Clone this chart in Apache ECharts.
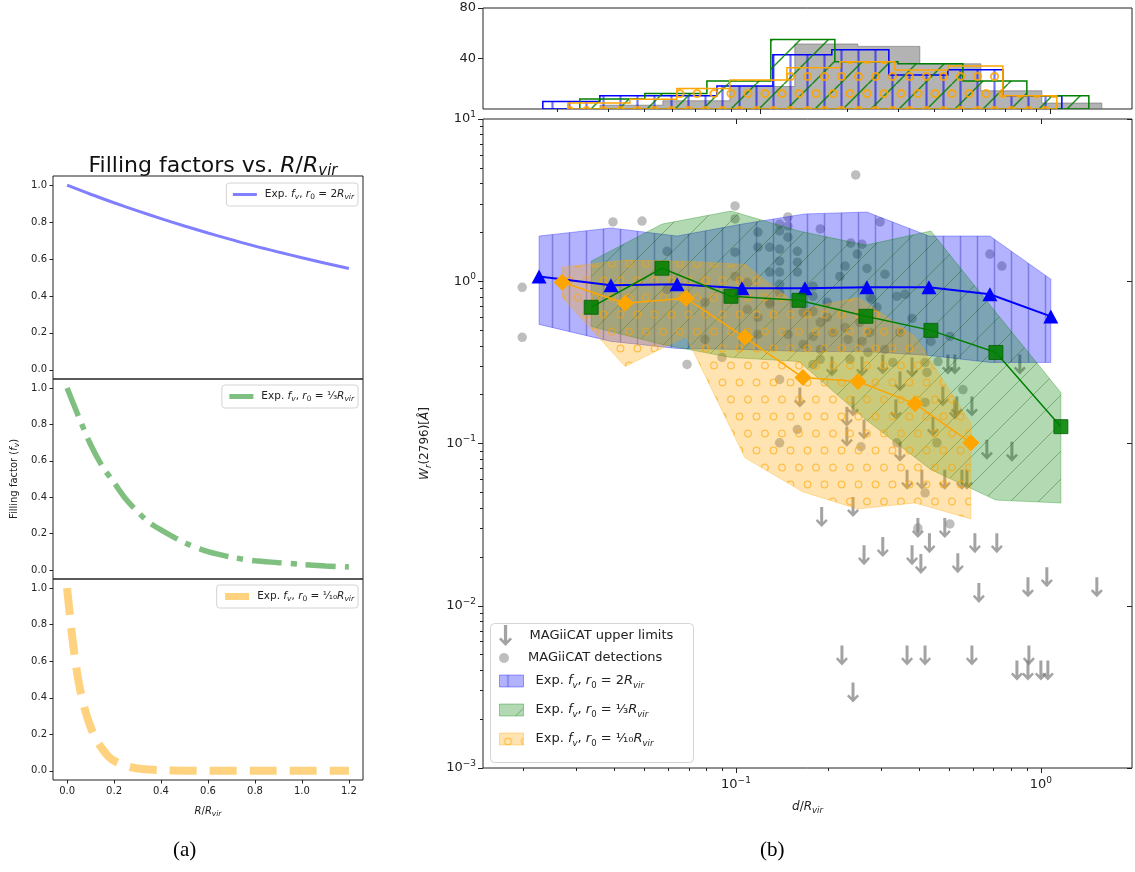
<!DOCTYPE html>
<html><head><meta charset="utf-8">
<script src="https://cdn.jsdelivr.net/npm/echarts@6/dist/echarts.min.js"></script>
<style>html,body{margin:0;padding:0;background:#fff}#c{width:1135px;height:872px}</style>
</head><body><div id="c"></div>
<script>
// ---------- Panel (a): filling factor curves ----------
const R_A = [0,0.1,0.2,0.3,0.4,0.5,0.6,0.7,0.8,0.9,1.0,1.1,1.2];
const F_A = [1.0,0.951,0.905,0.861,0.819,0.779,0.741,0.705,0.670,0.638,0.607,0.577,0.549];
const R_B = [0,0.05,0.1,0.15,0.2,0.25,0.3,0.35,0.4,0.5,0.6,0.7,0.8,0.9,1.0,1.1,1.2];
const F_B = [1.0,0.84,0.69,0.57,0.48,0.39,0.32,0.26,0.22,0.15,0.10,0.07,0.05,0.04,0.03,0.022,0.016];
const R_C = [0,0.025,0.05,0.075,0.1,0.125,0.15,0.175,0.2,0.25,0.3,0.35,0.4,0.5,0.6,0.8,1.0,1.2];
const F_C = [1.0,0.70,0.48,0.34,0.24,0.17,0.12,0.08,0.055,0.027,0.013,0.007,0.004,0.001,0,0,0,0];
const TICKS_A_X = [0,0.2,0.4,0.6,0.8,1.0,1.2];
const TICKS_A_Y = [0,0.2,0.4,0.6,0.8,1.0];

// ---------- Panel (b): histogram (counts per bin, bin edges in d/Rvir) ----------
const HGREY_E = [0.0281,0.0463,0.0788,0.132,0.2177,0.3561,0.5783,0.9385,1.511];
const HGREY_C = [3,6.5,17.8,51.5,49.6,35.8,14.4,4.7];
const HBLUE_E = [0.01785,0.02807,0.0452,0.0711,0.1109,0.1771,0.2785,0.4449,0.6884,1.100];
const HBLUE_C = [6,10.5,10.5,18.3,43,47,27,31,10.5];
const HGREEN_E = [0.02394,0.04012,0.06568,0.1091,0.1814,0.2992,0.5012,0.8331,1.363];
const HGREEN_C = [8,12.3,22.2,55,37.4,35.8,22.2,10.5];
const HORANGE_E = [0.02177,0.03561,0.05173,0.07879,0.1239,0.1888,0.2921,0.4449,0.6884,1.057];
const HORANGE_C = [4.7,7.8,16.2,22.9,32.7,37.4,30.8,34,10.5];
const HIST_TICKS_Y = [40,80];

// ---------- Panel (b): model medians and bands ----------
const BLUE_X = [0.0226,0.0389,0.0641,0.1046,0.1684,0.2688,0.4294,0.6805,1.078];
const BLUE_MED = [1.07,0.944,0.958,0.905,0.905,0.918,0.918,0.831,0.607];
const BLUE_UP = [1.90,2.13,1.90,2.25,2.60,2.67,1.90,1.90,1.03];
const BLUE_LO = [0.542,0.426,0.385,0.380,0.369,0.369,0.349,0.316,0.316];

const GREEN_X = [0.0335,0.0572,0.0963,0.1609,0.2668,0.4358,0.712,1.163];
const GREEN_MED = [0.691,1.203,0.808,0.763,0.608,0.498,0.364,0.127];
const GREEN_UP = [1.33,2.25,2.71,2.04,1.67,2.04,0.643,0.206];
const GREEN_LO = [0.527,0.408,0.339,0.320,0.14,0.069,0.0448,0.043];

const ORANGE_X = [0.0269,0.0433,0.0686,0.107,0.1658,0.2512,0.3863,0.5895];
const ORANGE_MED = [0.986,0.731,0.785,0.451,0.255,0.241,0.176,0.101];
const ORANGE_UP = [1.22,1.35,1.33,1.27,0.671,0.796,0.457,0.134];
const ORANGE_LO = [0.796,0.298,0.457,0.0816,0.0503,0.0395,0.043,0.0343];

// ---------- Panel (b): MAGiiCAT detections ----------
const DET_X = [0.0199,0.0199,0.0395,0.0492,0.0993,0.0993,0.0594,0.0993,0.0691,0.0594,0.0791,0.0993,0.109,0.109,0.118,0.118,0.0791,0.0900,0.118,0.118,0.129,0.129,0.139,0.148,0.148,0.148,0.139,0.139,0.139,0.139,0.139,0.139,0.159,0.159,0.159,0.166,0.129,0.148,0.139,0.159,0.139,0.247,0.189,0.297,0.238,0.259,0.250,0.228,0.269,0.308,0.219,0.179,0.179,0.275,0.337,0.358,0.199,0.290,0.199,0.378,0.129,0.189,0.208,0.228,0.255,0.275,0.233,0.259,0.179,0.166,0.345,0.503,0.436,0.271,0.308,0.189,0.189,0.327,0.417,0.460,0.179,0.423,0.2365,0.680,0.745,0.555,0.417,0.257,0.337,0.456,0.417,0.395,0.503,0.179,0.279];
const DET_Y = [0.918,0.451,2.32,2.35,2.91,2.42,1.53,1.51,0.307,0.892,0.742,1.07,0.986,0.671,0.599,0.470,0.438,0.339,2.01,1.62,1.62,0.742,2.25,2.49,2.19,1.87,2.04,1.58,1.33,1.14,0.958,0.855,1.53,1.31,1.14,0.643,1.14,0.470,0.248,0.122,0.101,4.52,2.10,2.32,1.72,1.69,1.47,1.24,1.20,1.105,1.07,0.931,0.808,0.796,0.808,0.831,0.742,0.691,0.599,0.590,0.721,0.558,0.484,0.519,0.558,0.484,0.438,0.426,0.457,0.408,0.484,0.457,0.426,0.364,0.380,0.380,0.330,0.316,0.316,0.320,0.307,0.274,0.330,1.47,1.24,0.215,0.179,0.0955,0.101,0.101,0.0496,0.0301,0.0319,0.652,0.774];

// ---------- Panel (b): MAGiiCAT upper limits ----------
const UL_X = [0.162,0.242,0.231,0.263,0.231,0.345,0.3345,0.364,0.407,0.484,0.551,0.572,0.4425,0.477,0.530,0.594,0.665,0.8035,0.191,0.242,0.395,0.484,0.431,0.303,0.263,0.378,0.404,0.6075,0.717,0.534,0.626,0.907,1.046,1.526,0.2226,0.364,0.417,0.594,0.9135,0.8345,0.907,1.0,1.054,0.242,0.2064,0.259,0.303,0.378,0.4955,0.522,0.853,0.345,0.522];
const UL_Y = [0.192,0.169,0.146,0.122,0.110,0.0889,0.162,0.0597,0.0597,0.0597,0.0597,0.0597,0.127,0.195,0.169,0.169,0.0915,0.0889,0.0352,0.0406,0.0301,0.0301,0.0243,0.0230,0.0205,0.0205,0.0181,0.0243,0.0243,0.0183,0.0120,0.0130,0.0150,0.0130,0.00494,0.00494,0.00494,0.00494,0.00494,0.00399,0.00399,0.00399,0.00399,0.00292,0.298,0.298,0.307,0.294,0.307,0.307,0.307,0.241,0.162];

// axis tick positions
const X_MAJ = [0.1,1];
const X_MINOR = [0.02,0.03,0.04,0.05,0.06,0.07,0.08,0.09,0.2,0.3,0.4,0.5,0.6,0.7,0.8,0.9];
const Y_MAJ = [0.001,0.01,0.1,1,10];
const Y_MINOR = [0.002,0.003,0.004,0.005,0.006,0.007,0.008,0.009,0.02,0.03,0.04,0.05,0.06,0.07,0.08,0.09,0.2,0.3,0.4,0.5,0.6,0.7,0.8,0.9,2,3,4,5,6,7,8,9];

const zip = (a,b) => a.map((v,i)=>[v,b[i]]);

// ---------- hatch patterns ----------
function mkPattern(w,h,bg,draw){
  const c=document.createElement('canvas'); c.width=w; c.height=h;
  const g=c.getContext('2d');
  if(bg){g.fillStyle=bg; g.fillRect(0,0,w,h);}
  draw(g,w,h);
  return {type:'pattern', image:c, repeat:'repeat'};
}
const vlines=(col,lw)=>(g,w,h)=>{g.strokeStyle=col;g.lineWidth=lw;g.beginPath();g.moveTo(w/2,0);g.lineTo(w/2,h);g.stroke();};
const diag=(col,lw)=>(g,w,h)=>{g.strokeStyle=col;g.lineWidth=lw;g.beginPath();
  [-w,0,w].forEach(x0=>{g.moveTo(x0,h);g.lineTo(x0+w,0);}); g.stroke();};
const rings=(col,lw,r)=>(g,w,h)=>{g.strokeStyle=col;g.lineWidth=lw;
  [[w/2,h/4],[0,3*h/4],[w,3*h/4]].forEach(p=>{g.beginPath();g.arc(p[0],p[1],r,0,Math.PI*2);g.stroke();});};

const P_BAND_B = mkPattern(17,17,'rgba(0,0,255,0.3)',vlines('rgba(0,0,150,0.3)',1.5));
const P_BAND_G = mkPattern(28,28,'rgba(0,128,0,0.3)',diag('rgba(0,90,0,0.35)',1));
const P_BAND_O = mkPattern(17,34,'rgba(255,165,0,0.3)',rings('rgba(255,165,0,0.6)',1.3,3.3));
const P_HIST_B = mkPattern(17,17,null,vlines('rgba(0,0,255,0.55)',2.2));
const P_HIST_G = mkPattern(28,28,null,diag('rgba(0,128,0,0.85)',1.5));
const P_HIST_O = mkPattern(17,34,null,rings('rgba(255,165,0,0.85)',2,3.6));

function bandRender(xs,up,lo,fill,stroke){
  return function(params,api){
    const pts=[];
    for(let i=0;i<xs.length;i++) pts.push(api.coord([xs[i],up[i]]));
    for(let i=xs.length-1;i>=0;i--) pts.push(api.coord([xs[i],lo[i]]));
    return {type:'polygon',shape:{points:pts},style:{fill:fill,stroke:stroke,lineWidth:1}};
  };
}
function stepRender(edges,counts,fill,stroke,lw){
  return function(params,api){
    const pts=[api.coord([edges[0],0])];
    for(let i=0;i<counts.length;i++){pts.push(api.coord([edges[i],counts[i]]));pts.push(api.coord([edges[i+1],counts[i]]));}
    pts.push(api.coord([edges[edges.length-1],0]));
    return {type:'polygon',shape:{points:pts},style:{fill:fill,stroke:stroke,lineWidth:lw}};
  };
}

const FONT='DejaVu Sans';
const ARROW='path://M4.5,0 L7.5,0 L7.5,14.3 L10.3,11.5 L12,13.2 L6,19.3 L0,13.2 L1.7,11.5 L4.5,14.3 Z';
const ARROW_COLOR='rgba(128,128,128,0.9)';
const DET_COLOR='rgba(120,120,120,0.6)';
const RICH = {
  it:{fontStyle:'italic'},
  sub:{fontSize:8.5,lineHeight:8,verticalAlign:'bottom',fontStyle:'italic'},
  subn:{fontSize:8.5,lineHeight:8,verticalAlign:'bottom'},
  sup:{fontSize:9,lineHeight:9,verticalAlign:'top'}
};
const RICH_S = {
  it:{fontStyle:'italic'},
  sub:{fontSize:7.5,lineHeight:6,verticalAlign:'bottom',fontStyle:'italic'},
  subn:{fontSize:7.5,lineHeight:6,verticalAlign:'bottom'}
};
const LABELS = {
  la:'Exp. {it|f}{sub|v}, {it|r}{subn|0} = 2{it|R}{sub|vir}',
  lb:'Exp. {it|f}{sub|v}, {it|r}{subn|0} = ¹⁄₃{it|R}{sub|vir}',
  lc:'Exp. {it|f}{sub|v}, {it|r}{subn|0} = ¹⁄₁₀{it|R}{sub|vir}',
  ul:'MAGiiCAT upper limits',
  det:'MAGiiCAT detections',
  bB:'Exp. {it|f}{sub|v}, {it|r}{subn|0} = 2{it|R}{sub|vir}',
  bG:'Exp. {it|f}{sub|v}, {it|r}{subn|0} = ¹⁄₃{it|R}{sub|vir}',
  bO:'Exp. {it|f}{sub|v}, {it|r}{subn|0} = ¹⁄₁₀{it|R}{sub|vir}'
};
function pow10(v){const e=Math.round(Math.log10(v));return '10{sup|'+(e<0?'−'+(-e):e)+'}';}

const XMIN=0.0148, XMAX=1.99, HXMIN=0.0111, HXMAX=1.92;

function leftX(gi,show){
  return {type:'value',gridIndex:gi,min:-0.06,max:1.26,
    axisLine:{show:false,onZero:false},splitLine:{show:false},
    axisTick:{show:show,customValues:TICKS_A_X,length:3.5,lineStyle:{color:'#222'}},
    axisLabel:{show:show,customValues:TICKS_A_X,formatter:v=>v.toFixed(1),fontSize:10,color:'#222',margin:6,fontFamily:FONT}};
}
function leftY(gi){
  return {type:'value',gridIndex:gi,min:-0.05,max:1.05,
    axisLine:{show:false,onZero:false},splitLine:{show:false},
    axisTick:{show:true,customValues:TICKS_A_Y,length:3.5,lineStyle:{color:'#222'}},
    axisLabel:{customValues:TICKS_A_Y,formatter:v=>v.toFixed(1),fontSize:10,color:'#222',margin:6,fontFamily:FONT}};
}
function logAx(type,gi,min,max,pos,opt){
  return Object.assign({type:'log',gridIndex:gi,min:min,max:max,position:pos,
    axisLine:{show:false,onZero:false},splitLine:{show:false},
    axisTick:{show:false},axisLabel:{show:false}},opt);
}
const gridBase={show:true,borderColor:'#222',borderWidth:1,backgroundColor:'transparent',outerBoundsMode:'none',containLabel:false};

function leftLegend(name,top,color,lw){
  return {orient:'horizontal',selectedMode:false,itemWidth:24,itemHeight:12,itemGap:0,
    right:777,top:top,padding:[5,4,5,5],borderColor:'#d4d4d4',borderWidth:1,borderRadius:3,backgroundColor:'#fff',
    itemStyle:{color:'rgba(0,0,0,0)',borderWidth:0},
    lineStyle:{color:color,width:lw,type:'solid',cap:'butt'},
    formatter:n=>LABELS[n],textStyle:{fontSize:10.5,color:'#222',fontFamily:FONT,lineHeight:13,rich:RICH_S,padding:[0,0,0,3]},
    data:[name]};
}
const bigLegendText = {fontSize:13,color:'#222',fontFamily:FONT,lineHeight:18,rich:RICH,padding:[0,0,0,7]};

const option = {
  animation:false,
  textStyle:{fontFamily:FONT},
  title:{text:'Filling factors vs. {it|R}/{it|R}{sub|vir}',left:208,top:148,textAlign:'center',
    textStyle:{fontSize:22,fontWeight:'normal',color:'#111',fontFamily:FONT,lineHeight:26,
      rich:{it:{fontStyle:'italic',fontSize:22},sub:{fontSize:15,lineHeight:12,verticalAlign:'bottom',fontStyle:'italic'}}}},
  grid:[
    Object.assign({left:53,top:176,width:310,height:203},gridBase),
    Object.assign({left:53,top:379,width:310,height:200},gridBase),
    Object.assign({left:53,top:579,width:310,height:201},gridBase),
    Object.assign({left:483,top:8,width:649,height:101},gridBase),
    Object.assign({left:483,top:119,width:649,height:649},gridBase)
  ],
  xAxis:[
    leftX(0,false), leftX(1,false),
    Object.assign(leftX(2,true),{name:'{it|R}/{it|R}{sub|vir}',nameLocation:'middle',nameGap:24,
      nameTextStyle:{fontSize:10,color:'#222',lineHeight:14,rich:RICH_S}}),
    logAx('log',3,HXMIN,HXMAX,'bottom',{axisTick:{show:true,customValues:X_MAJ,length:5,lineStyle:{color:'#222'}}}),
    logAx('log',3,HXMIN,HXMAX,'bottom',{axisTick:{show:true,customValues:X_MINOR,length:3,lineStyle:{color:'#222'}}}),
    logAx('log',4,XMIN,XMAX,'bottom',{
      axisTick:{show:true,customValues:X_MAJ,length:5,lineStyle:{color:'#222'}},
      axisLabel:{show:true,customValues:X_MAJ,formatter:pow10,fontSize:13,color:'#222',margin:8,lineHeight:18,rich:RICH},
      name:'{it|d}/{it|R}{sub|vir}',nameLocation:'middle',nameGap:30,
      nameTextStyle:{fontSize:12,color:'#222',lineHeight:16,rich:RICH}}),
    logAx('log',4,XMIN,XMAX,'bottom',{axisTick:{show:true,customValues:X_MINOR,length:3,lineStyle:{color:'#222'}}}),
    logAx('log',4,XMIN,XMAX,'top',{axisTick:{show:true,inside:true,customValues:X_MAJ,length:5,lineStyle:{color:'#222'}}})
  ],
  yAxis:[
    leftY(0),
    Object.assign(leftY(1),{name:'Filling factor ({it|f}{sub|v})',nameLocation:'middle',nameGap:32,
      nameTextStyle:{fontSize:10,color:'#222',lineHeight:14,rich:RICH_S}}),
    leftY(2),
    {type:'value',gridIndex:3,min:0,max:80,axisLine:{show:false,onZero:false},splitLine:{show:false},
      axisTick:{customValues:HIST_TICKS_Y,length:5,lineStyle:{color:'#222'}},
      axisLabel:{customValues:HIST_TICKS_Y,fontSize:13,color:'#222',margin:7}},
    logAx('log',4,0.001,10,'left',{
      axisTick:{show:true,customValues:Y_MAJ,length:5,lineStyle:{color:'#222'}},
      axisLabel:{show:true,customValues:Y_MAJ,formatter:pow10,fontSize:13,color:'#222',margin:7,lineHeight:18,rich:RICH},
      name:'{it|W}{sub|r}(2796)[{it|Å}]',nameLocation:'middle',nameGap:50,
      nameTextStyle:{fontSize:12,color:'#222',lineHeight:16,rich:RICH}}),
    logAx('log',4,0.001,10,'left',{axisTick:{show:true,customValues:Y_MINOR,length:3,lineStyle:{color:'#222'}}}),
    logAx('log',4,0.001,10,'right',{axisTick:{show:true,inside:true,customValues:Y_MAJ,length:5,lineStyle:{color:'#222'}}})
  ],
  legend:[
    leftLegend('la',183,'rgba(0,0,255,0.5)',3),
    leftLegend('lb',385,'rgba(0,128,0,0.5)',5),
    leftLegend('lc',585,'rgba(255,165,0,0.5)',7),
    {orient:'vertical',selectedMode:false,left:499,top:625,z:6,itemWidth:24,itemHeight:21,padding:0,
      formatter:n=>LABELS[n],textStyle:bigLegendText,
      data:[{name:'ul',icon:ARROW,itemStyle:{color:ARROW_COLOR}}]},
    {orient:'vertical',selectedMode:false,left:499,top:649,z:6,itemWidth:24,itemHeight:10,padding:0,
      formatter:n=>LABELS[n],textStyle:bigLegendText,
      data:[{name:'det',icon:'circle',itemStyle:{color:DET_COLOR}}]},
    {orient:'vertical',selectedMode:false,left:499,top:672,z:6,itemWidth:24,itemHeight:12,itemGap:11,padding:0,
      formatter:n=>LABELS[n],textStyle:bigLegendText,
      data:[
        {name:'bB',icon:'rect',itemStyle:{color:P_BAND_B,borderColor:'rgba(0,0,255,0.35)',borderWidth:1}},
        {name:'bG',icon:'rect',itemStyle:{color:P_BAND_G,borderColor:'rgba(0,128,0,0.35)',borderWidth:1}},
        {name:'bO',icon:'rect',itemStyle:{color:P_BAND_O,borderColor:'rgba(255,165,0,0.35)',borderWidth:1}}
      ]}
  ],
  graphic:[
    {type:'rect',left:490,top:623,z:4,shape:{width:203,height:139,r:4},
      style:{fill:'rgba(255,255,255,0.85)',stroke:'#d4d4d4',lineWidth:1}},
    {type:'text',left:173,top:840,style:{text:'(a)',font:'21px "Liberation Serif"',fill:'#000'}},
    {type:'text',left:760,top:840,style:{text:'(b)',font:'21px "Liberation Serif"',fill:'#000'}}
  ],
  series:[
    {name:'la',type:'line',xAxisIndex:0,yAxisIndex:0,data:zip(R_A,F_A),symbol:'none',smooth:0.3,
      lineStyle:{color:'rgba(0,0,255,0.5)',width:3},itemStyle:{color:'rgba(0,0,255,0.5)'}},
    {name:'lb',type:'line',xAxisIndex:1,yAxisIndex:1,data:zip(R_B,F_B),symbol:'none',smooth:0.3,
      lineStyle:{color:'rgba(0,128,0,0.5)',width:5.5,type:[30,9,6,9],cap:'butt'},itemStyle:{color:'rgba(0,128,0,0.5)'}},
    {name:'lc',type:'line',xAxisIndex:2,yAxisIndex:2,data:zip(R_C,F_C),symbol:'none',smooth:0.3,
      lineStyle:{color:'rgba(255,165,0,0.5)',width:8,type:[27,13],cap:'butt'},itemStyle:{color:'rgba(255,165,0,0.5)'}},

    {name:'hgrey',type:'custom',xAxisIndex:3,yAxisIndex:3,data:[[HGREY_E[0],0]],clip:true,
      renderItem:stepRender(HGREY_E,HGREY_C,'rgba(128,128,128,0.6)','rgba(110,110,110,0.6)',1)},
    {name:'hblue',type:'custom',xAxisIndex:3,yAxisIndex:3,data:[[HBLUE_E[0],0]],clip:true,
      renderItem:stepRender(HBLUE_E,HBLUE_C,P_HIST_B,'#0000ff',1.5)},
    {name:'hgreen',type:'custom',xAxisIndex:3,yAxisIndex:3,data:[[HGREEN_E[0],0]],clip:true,
      renderItem:stepRender(HGREEN_E,HGREEN_C,P_HIST_G,'#008000',1.5)},
    {name:'horange',type:'custom',xAxisIndex:3,yAxisIndex:3,data:[[HORANGE_E[0],0]],clip:true,
      renderItem:stepRender(HORANGE_E,HORANGE_C,P_HIST_O,'#ffa500',1.5)},

    {name:'det',type:'scatter',z:1,xAxisIndex:5,yAxisIndex:4,data:zip(DET_X,DET_Y),symbol:'circle',symbolSize:9.5,
      itemStyle:{color:DET_COLOR}},
    {name:'ul',type:'scatter',z:1,xAxisIndex:5,yAxisIndex:4,data:zip(UL_X,UL_Y),symbol:ARROW,symbolSize:[12,20],
      itemStyle:{color:ARROW_COLOR}},
    {name:'bB',type:'custom',z:2,xAxisIndex:5,yAxisIndex:4,data:[[BLUE_X[0],BLUE_UP[0]]],clip:true,
      itemStyle:{color:'rgba(0,0,255,0.3)'},
      renderItem:bandRender(BLUE_X,BLUE_UP,BLUE_LO,P_BAND_B,'rgba(0,0,255,0.3)')},
    {name:'bG',type:'custom',z:2,xAxisIndex:5,yAxisIndex:4,data:[[GREEN_X[0],GREEN_UP[0]]],clip:true,
      itemStyle:{color:'rgba(0,128,0,0.3)'},
      renderItem:bandRender(GREEN_X,GREEN_UP,GREEN_LO,P_BAND_G,'rgba(0,128,0,0.3)')},
    {name:'bO',type:'custom',z:2,xAxisIndex:5,yAxisIndex:4,data:[[ORANGE_X[0],ORANGE_UP[0]]],clip:true,
      itemStyle:{color:'rgba(255,165,0,0.3)'},
      renderItem:bandRender(ORANGE_X,ORANGE_UP,ORANGE_LO,P_BAND_O,'rgba(255,165,0,0.3)')},
    {name:'mB',type:'line',z:3,xAxisIndex:5,yAxisIndex:4,data:zip(BLUE_X,BLUE_MED),symbol:'triangle',symbolSize:[15,14],
      lineStyle:{color:'#0000ff',width:2},itemStyle:{color:'#0000ff'}},
    {name:'mG',type:'line',z:3,xAxisIndex:5,yAxisIndex:4,data:zip(GREEN_X,GREEN_MED),symbol:'rect',symbolSize:14,
      lineStyle:{color:'#008000',width:1.5},itemStyle:{color:'rgba(0,128,0,0.88)',borderColor:'#006000',borderWidth:0.8}},
    {name:'mO',type:'line',z:3,xAxisIndex:5,yAxisIndex:4,data:zip(ORANGE_X,ORANGE_MED),symbol:'diamond',symbolSize:[17,17],
      lineStyle:{color:'#ffa500',width:1.5},itemStyle:{color:'#ffa500'}}
  ]
};
const chart = echarts.init(document.getElementById('c'),null,{renderer:'canvas',width:1135,height:872});
chart.setOption(option);
</script></body></html>
